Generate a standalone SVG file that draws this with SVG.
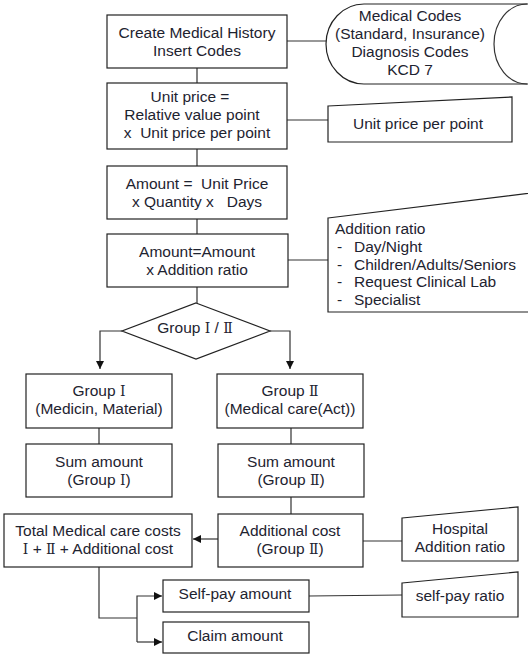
<svg xmlns="http://www.w3.org/2000/svg" width="528" height="654" viewBox="0 0 528 654">
<defs>
<style>
.b{fill:#fff;stroke:#222;stroke-width:1.2}
.c{fill:none;stroke:#333;stroke-width:1.2}
text{font-family:"Liberation Sans",Arial,sans-serif;font-size:15.5px;fill:#1e2330;text-anchor:middle;white-space:pre}
.l{text-anchor:start}
.r{font-family:"DejaVu Serif","Liberation Serif",serif;font-size:14px}
</style>
<marker id="a" viewBox="0 0 10 10" refX="10" refY="5" markerWidth="8" markerHeight="8" markerUnits="userSpaceOnUse" orient="auto"><path d="M0,0L10,5L0,10z" fill="#111"/></marker>
</defs>
<rect width="528" height="654" fill="#fff"/>
<g id="connectors">
<path class="c" d="M197,68V83M197,149V166M197,219V234M197,287V303"/>
<path class="c" d="M287,41H326M287,120H328M288,260H328"/>
<path class="c" d="M122,331H100V369" marker-end="url(#a)"/>
<path class="c" d="M270,331H290V369" marker-end="url(#a)"/>
<path class="c" d="M99,428V444M291,428V444M291,497V514"/>
<path class="c" d="M218,539H193" marker-end="url(#a)"/>
<path class="c" d="M363,541H402M309,596L402,595"/>
<path class="c" d="M99,567V618H137"/>
<path class="c" d="M137,642V596H162" marker-end="url(#a)"/>
<path class="c" d="M137,642H162" marker-end="url(#a)"/>
</g>
<g id="n1"><rect class="b" x="107" y="15" width="180" height="53"/><text x="197" y="38">Create Medical History</text><text x="197" y="56">Insert Codes</text></g>
<g id="n_codes"><path class="b" d="M540,4H364A38,40 0 0 0 364,84H540"/><path class="c" d="M527,4A33,40 0 0 0 527,84"/><text x="410" y="21">Medical Codes</text><text x="410" y="39">(Standard, Insurance)</text><text x="410" y="57">Diagnosis Codes</text><text x="410" y="75">KCD 7</text></g>
<g id="n2"><rect class="b" x="107" y="83" width="180" height="66"/><text x="190" y="102">Unit price =</text><text x="192" y="120">Relative value point</text><text x="197" y="138">x  Unit price per point</text></g>
<g id="n_upp"><path class="b" d="M328,106L512,97V142H328Z"/><text x="418" y="129">Unit price per point</text></g>
<g id="n3"><rect class="b" x="107" y="166" width="180" height="53"/><text x="197" y="189">Amount =  Unit Price</text><text x="197" y="207">x Quantity x   Days</text></g>
<g id="n4"><rect class="b" x="107" y="234" width="181" height="53"/><text x="197" y="257">Amount=Amount</text><text x="197" y="275">x Addition ratio</text></g>
<g id="n_add"><path class="b" d="M328,218L540,192V312H328Z"/><text class="l" x="335" y="234">Addition ratio</text><text class="l" x="337" y="252">-</text><text class="l" x="354" y="252">Day/Night</text><text class="l" x="337" y="270">-</text><text class="l" x="354" y="270">Children/Adults/Seniors</text><text class="l" x="337" y="287">-</text><text class="l" x="354" y="287">Request Clinical Lab</text><text class="l" x="337" y="305">-</text><text class="l" x="354" y="305">Specialist</text></g>
<g id="n_dec"><path class="b" d="M196,303L270,331L196,359L122,331Z"/><text x="195" y="333">Group <tspan class="r">Ⅰ</tspan> / <tspan class="r">Ⅱ</tspan></text></g>
<g id="n_g1"><rect class="b" x="26" y="374" width="146" height="54"/><text x="99" y="396">Group <tspan class="r">Ⅰ</tspan></text><text x="99" y="414">(Medicin, Material)</text></g>
<g id="n_g2"><rect class="b" x="217" y="374" width="146" height="54"/><text x="290" y="396">Group <tspan class="r">Ⅱ</tspan></text><text x="290" y="414">(Medical care(Act))</text></g>
<g id="n_s1"><rect class="b" x="26" y="444" width="146" height="53"/><text x="99" y="467">Sum amount</text><text x="99" y="485">(Group <tspan class="r">Ⅰ</tspan>)</text></g>
<g id="n_s2"><rect class="b" x="218" y="444" width="146" height="53"/><text x="291" y="467">Sum amount</text><text x="291" y="485">(Group <tspan class="r">Ⅱ</tspan>)</text></g>
<g id="n_tot"><rect class="b" x="4" y="514" width="188" height="53"/><text x="98" y="536">Total Medical care costs</text><text x="98" y="554"><tspan class="r">Ⅰ</tspan> + <tspan class="r">Ⅱ</tspan> + Additional cost</text></g>
<g id="n_ac"><rect class="b" x="218" y="514" width="145" height="53"/><text x="290" y="536">Additional cost</text><text x="290" y="554">(Group <tspan class="r">Ⅱ</tspan>)</text></g>
<g id="n_hosp"><path class="b" d="M402,518L518,507V561H402Z"/><text x="460" y="534">Hospital</text><text x="460" y="552">Addition ratio</text></g>
<g id="n_self"><rect class="b" x="163" y="580" width="146" height="32"/><text x="235" y="599">Self-pay amount</text></g>
<g id="n_claim"><rect class="b" x="163" y="622" width="146" height="31"/><text x="235" y="641">Claim amount</text></g>
<g id="n_spr"><path class="b" d="M402,583L518,572V617H402Z"/><text x="460" y="601">self-pay ratio</text></g>
</svg>
